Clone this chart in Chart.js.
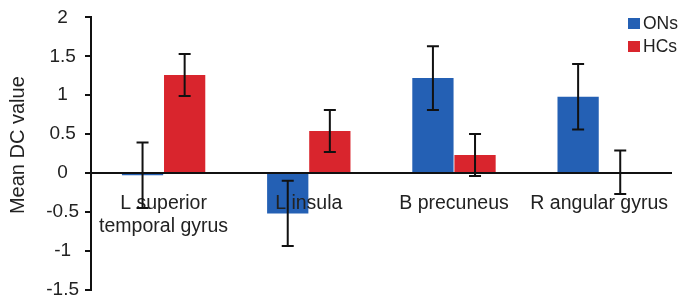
<!DOCTYPE html>
<html>
<head>
<meta charset="utf-8">
<script src="https://cdn.jsdelivr.net/npm/chart.js@4/dist/chart.umd.min.js"></script>
<style>
  html, body { margin: 0; padding: 0; background: #fff; }
  #wrap { position: relative; width: 688px; height: 307px; }
  #legend { position: absolute; left: 628px; top: 12px; font-family: "Liberation Sans", Arial, sans-serif; font-size: 17.5px; color: #222; }
  #legend .item { display: flex; align-items: center; height: 23px; }
  #legend .sw { width: 12px; height: 11px; margin-right: 3px; }
</style>
</head>
<body>
<div id="wrap">
  <canvas id="c" width="688" height="307"></canvas>
  <div id="legend"></div>
</div>
<script>
const categories = [["L superior", "temporal gyrus"], "L insula", "B precuneus", "R angular gyrus"];
const seriesNames = ["ONs", "HCs"];
const onsValues = [-0.03, -0.52, 1.22, 0.98];
const onsErrors = [0.42, 0.42, 0.41, 0.42];
const hcsValues = [1.26, 0.54, 0.23, 0.01];
const hcsErrors = [0.27, 0.27, 0.27, 0.28];
const yTickValues = [-1.5, -1, -0.5, 0, 0.5, 1, 1.5, 2];
const yTickLabels = ["-1.5", "-1", "-0.5", "0", "0.5", "1", "1.5", "2"];
const yTitle = "Mean DC value";
const colors = ["#2460b4", "#d9252d"];

const FONT = "'Liberation Sans', Arial, sans-serif";

const errorBarPlugin = {
  id: 'errorBars',
  afterDraw(chart) {
    const ctx = chart.ctx;
    const y = chart.scales.y;
    ctx.save();
    ctx.strokeStyle = '#111';
    ctx.lineWidth = 2;
    chart.data.datasets.forEach((ds, di) => {
      const meta = chart.getDatasetMeta(di);
      meta.data.forEach((bar, i) => {
        const v = ds.data[i];
        const e = ds.errors[i];
        const x = bar.x;
        const yTop = y.getPixelForValue(v + e);
        const yBot = y.getPixelForValue(v - e);
        ctx.beginPath();
        ctx.moveTo(x, yTop); ctx.lineTo(x, yBot);
        ctx.moveTo(x - 6, yTop); ctx.lineTo(x + 6, yTop);
        ctx.moveTo(x - 6, yBot); ctx.lineTo(x + 6, yBot);
        ctx.stroke();
      });
    });
    ctx.restore();
  }
};

const chart = new Chart(document.getElementById('c'), {
  type: 'bar',
  data: {
    labels: categories,
    datasets: [
      { label: seriesNames[0], data: onsValues, errors: onsErrors, backgroundColor: colors[0] },
      { label: seriesNames[1], data: hcsValues, errors: hcsErrors, backgroundColor: colors[1] }
    ]
  },
  options: {
    responsive: false,
    devicePixelRatio: 1,
    animation: false,
    layout: { padding: { left: 0, top: 15, right: 8, bottom: 10 } },
    datasets: { bar: { categoryPercentage: 0.58, barPercentage: 0.98 } },
    plugins: { legend: { display: false }, tooltip: { enabled: false } },
    scales: {
      x: {
        position: { y: 0 },
        grid: { display: false, drawTicks: false },
        border: { display: true, color: '#111', width: 2, z: 1 },
        ticks: { z: 1, color: '#222', font: { family: FONT, size: 19.5 }, padding: 19, maxRotation: 0, autoSkip: false },
      },
      y: {
        min: -1.5, max: 2,
        afterBuildTicks(scale) { scale.ticks = yTickValues.map(v => ({ value: v })); },
        afterFit(scale) { scale.width = 91; },
        grid: { drawOnChartArea: false, drawTicks: true, tickLength: 6, color: '#111', lineWidth: 2 },
        border: { display: true, color: '#111', width: 2 },
        ticks: {
          color: '#222', font: { family: FONT, size: 19 }, padding: 6, crossAlign: 'center',
          callback(value) { const k = yTickValues.indexOf(value); return k >= 0 ? yTickLabels[k] : ''; }
        },
        title: { display: true, text: '   ' + yTitle, color: '#222', font: { family: FONT, size: 20 }, padding: { top: 6, bottom: 0 } }
      }
    }
  },
  plugins: [errorBarPlugin]
});

const legend = document.getElementById('legend');
chart.data.datasets.forEach((ds) => {
  const item = document.createElement('div');
  item.className = 'item';
  const sw = document.createElement('span');
  sw.className = 'sw';
  sw.style.background = ds.backgroundColor;
  const t = document.createElement('span');
  t.textContent = ds.label;
  item.appendChild(sw); item.appendChild(t);
  legend.appendChild(item);
});
</script>
</body>
</html>
